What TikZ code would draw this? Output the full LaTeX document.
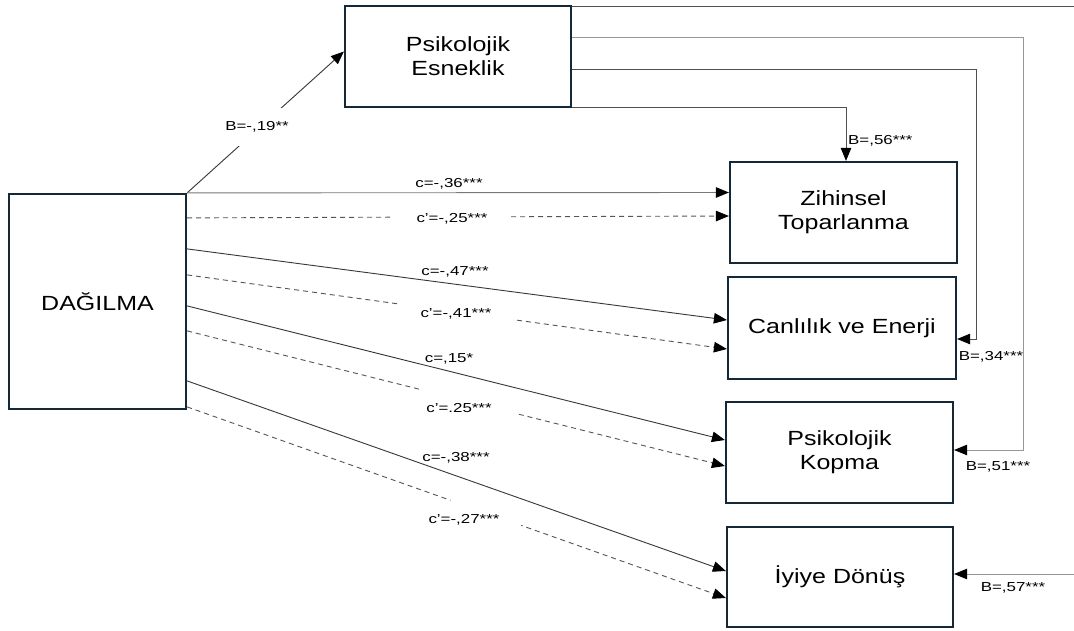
\documentclass[tikz,border=0pt]{standalone}
\usepackage{fontspec}
\setmainfont{Liberation Sans}
\usepackage{graphicx}
\usetikzlibrary{arrows.meta}
\newcommand{\bxt}[1]{\scalebox{1.22}[1]{#1}}
\newcommand{\lbt}[1]{\scalebox{1.3}[1]{#1}}
\definecolor{boxc}{RGB}{20,40,56}
\definecolor{solidc}{RGB}{55,55,55}
\definecolor{lightc}{RGB}{120,120,120}
\definecolor{dashc}{RGB}{85,85,85}
\definecolor{fbdark}{RGB}{80,80,80}
\definecolor{fblight}{RGB}{150,150,150}
\begin{document}
\begin{tikzpicture}[x=1pt,y=-1pt,
  box/.style={draw=boxc, line width=2.2pt, fill=white, inner sep=0pt, align=center,
    font=\fontsize{20.5}{24}\selectfont},
  lbl/.style={font=\fontsize{13}{15}\selectfont, inner sep=0pt},
  conn/.style={draw=solidc, line width=0.9pt, -{Triangle[length=13pt,width=10.5pt,color=black]}},
  dconn/.style={conn, draw=dashc, dash pattern=on 5pt off 4pt},
  gap/.style={draw=white, line width=3.5pt}
]
\useasboundingbox[fill=white] (0,0) rectangle (1074,631);

% boxes
\node[box, minimum width=177pt, minimum height=215pt] (dag) at (97.5,301.5) {\bxt{DAĞILMA}};
\node[box, minimum width=226pt, minimum height=101pt] (pe) at (458,56.5) {\bxt{Psikolojik}\\\bxt{Esneklik}};
\node[box, minimum width=227pt, minimum height=101pt] (zt) at (843.5,212.5) {\bxt{Zihinsel}\\\bxt{Toparlanma}};
\node[box, minimum width=228pt, minimum height=102pt] (ce) at (842,328) {\bxt{Canlılık ve Enerji}};
\node[box, minimum width=227pt, minimum height=101pt] (pk) at (839.5,452.5) {\bxt{Psikolojik}\\\bxt{Kopma}};
\node[box, minimum width=226pt, minimum height=100pt] (id) at (840,577) {\bxt{İyiye Dönüş}};

% edge coordinates
\path ([yshift=-1.1pt]pe.north east) -- ++(510,0) coordinate (r1);
\coordinate (r5) at (1074,574);

% a-path
\draw[conn] (dag.north east) -- ([yshift=5pt]pe.west);
\node[lbl, fill=white, inner xsep=4pt, inner ysep=14pt] at (257,127) {\lbt{B=-,19**}};

% direct and indirect effects
\draw[conn, draw=lightc] (dag.north east) -- ([yshift=20pt]zt.west);
\draw[dconn] ([yshift=-25pt]dag.north east) -- ([yshift=-3.5pt]zt.west)
  coordinate[pos=0.382] (g1a) coordinate[pos=0.596] (g1b);
\draw[conn] ([yshift=-56pt]dag.north east) -- ([yshift=8pt]ce.west);
\draw[dconn] ([yshift=-82pt]dag.north east) -- ([yshift=-21pt]ce.west)
  coordinate[pos=0.395] (g2a) coordinate[pos=0.605] (g2b);
\draw[conn] ([yshift=-113pt]dag.north east) -- ([yshift=12.5pt]pk.west);
\draw[dconn] ([yshift=-138pt]dag.north east) -- ([yshift=-13.5pt]pk.west)
  coordinate[pos=0.434] (g3a) coordinate[pos=0.611] (g3b);
\draw[conn] ([yshift=-188pt]dag.north east) -- ([yshift=6pt]id.west);
\draw[dconn] ([yshift=-214pt]dag.north east) -- ([yshift=-21pt]id.west)
  coordinate[pos=0.489] (g4a) coordinate[pos=0.62] (g4b);

\draw[gap] (g1a) -- (g1b);
\draw[gap] (g2a) -- (g2b);
\draw[gap] (g3a) -- (g3b);
\draw[gap] (g4a) -- (g4b);

\node[lbl] at (449,184) {\lbt{c=-,36***}};
\node[lbl] at (452,219) {\lbt{c’=-,25***}};
\node[lbl] at (455,272) {\lbt{c=-,47***}};
\node[lbl] at (456,314) {\lbt{c’=-,41***}};
\node[lbl] at (449,359) {\lbt{c=,15*}};
\node[lbl] at (459,408) {\lbt{c’=.25***}};
\node[lbl] at (456,458) {\lbt{c=-,38***}};
\node[lbl] at (464,520) {\lbt{c’=-,27***}};

% b-paths
\draw[line width=0.9pt, draw=fbdark] ([yshift=-1.1pt]pe.north east) -- (r1);
\draw[conn, draw=fblight] ([yshift=-33pt]pe.north east) -| ([xshift=69pt,yshift=2.5pt]pk.east) -- ([yshift=2.5pt]pk.east);
\draw[conn, draw=fbdark] ([yshift=-65pt]pe.north east) -| ([xshift=19pt,yshift=-11pt]ce.east) -- ([yshift=-11pt]ce.east);
\draw[conn, draw=fbdark] ([yshift=1.1pt]pe.south east) -| ([xshift=2.5pt]zt.north);
\draw[conn, draw=fblight] (r5) -- ([yshift=3pt]id.east);

\node[lbl, anchor=west] at (848,141) {\lbt{B=,56***}};
\node[lbl] at (991,357) {\lbt{B=,34***}};
\node[lbl] at (998,467) {\lbt{B=,51***}};
\node[lbl] at (1013,588) {\lbt{B=,57***}};
\end{tikzpicture}
\end{document}
